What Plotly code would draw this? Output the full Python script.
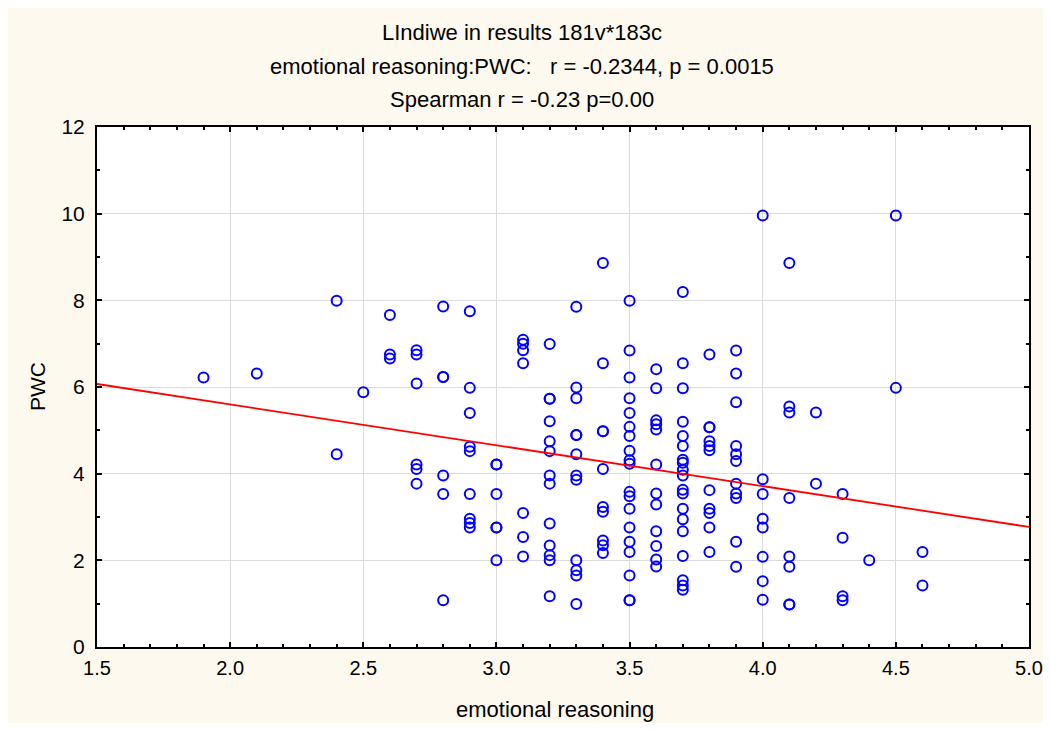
import plotly.graph_objects as go

# ---- data ----
col_x = [1.9, 2.1, 2.4, 2.5, 2.6, 2.7, 2.8, 2.9, 3.0, 3.1, 3.2, 3.3, 3.4,
         3.5, 3.6, 3.7, 3.8, 3.9, 4.0, 4.1, 4.2, 4.3, 4.4, 4.5, 4.6]
col_pwc = [
    [6.22],
    [6.31],
    [7.99, 4.45],
    [5.88],
    [7.66, 6.75, 6.66],
    [6.85, 6.75, 6.08, 4.21, 4.11, 3.77],
    [7.86, 6.23, 6.23, 3.96, 3.53, 1.08],
    [7.75, 5.98, 5.40, 4.62, 4.52, 3.53, 2.96, 2.86, 2.76],
    [4.21, 4.21, 3.53, 2.76, 2.76, 2.00],
    [7.09, 7.00, 6.85, 6.55, 3.09, 2.54, 2.09],
    [6.99, 5.73, 5.73, 5.21, 4.75, 4.52, 3.96, 3.77, 2.85, 2.34, 2.12, 2.00, 1.17],
    [7.85, 5.99, 5.74, 4.89, 4.89, 4.45, 3.96, 3.86, 2.00, 1.77, 1.65, 0.99],
    [8.86, 6.55, 4.98, 4.98, 4.11, 3.23, 3.12, 2.46, 2.35, 2.17],
    [7.99, 6.84, 6.22, 5.74, 5.40, 5.08, 4.87, 4.53, 4.31, 4.23, 3.58, 3.48,
     3.19, 2.76, 2.43, 2.19, 1.65, 1.08, 1.08],
    [6.41, 5.97, 5.23, 5.14, 5.02, 4.21, 3.54, 3.29, 2.67, 2.33, 2.02, 1.86],
    [8.19, 6.55, 5.97, 5.20, 4.87, 4.64, 4.32, 4.25, 4.09, 3.96, 3.63, 3.54,
     3.19, 2.95, 2.67, 2.10, 1.54, 1.42, 1.32],
    [6.75, 5.07, 5.07, 4.75, 4.64, 4.54, 3.62, 3.19, 3.09, 2.76, 2.19],
    [6.84, 6.31, 5.65, 4.64, 4.45, 4.29, 3.77, 3.54, 3.44, 2.43, 1.85],
    [9.96, 3.87, 3.53, 2.96, 2.76, 2.08, 1.52, 1.09],
    [8.86, 5.55, 5.41, 3.44, 2.09, 1.85, 0.98, 0.98],
    [5.41, 3.77],
    [3.53, 2.52, 1.17, 1.08],
    [2.00],
    [9.96, 5.98],
    [2.19, 1.42],
]
fit_x = [1.5, 5.0]
fit_y = [6.07, 2.77]

title_lines = ["LIndiwe in results 181v*183c",
               "emotional reasoning:PWC:   r = -0.2344, p = 0.0015",
               "Spearman r = -0.23 p=0.00"]
x_title = "emotional reasoning"
y_title = "PWC"
x_ticks = [1.5, 2.0, 2.5, 3.0, 3.5, 4.0, 4.5, 5.0]
y_ticks = [0, 2, 4, 6, 8, 10, 12]

er = []
pwc = []
for xv, ys in zip(col_x, col_pwc):
    for yv in ys:
        er.append(xv)
        pwc.append(yv)

FONT = "Liberation Sans, Arial, sans-serif"
OFF = 8  # page body margin
W, H = 1035, 715
L, T = 89, 119
PW, PH = 932, 520
R = W - L - PW
B = H - T - PH


def px(xpage):
    return (xpage - OFF - L) / PW


def py(ypage):
    return (H - B - (ypage - OFF)) / PH


fig = go.Figure()
fig.add_trace(go.Scatter(
    x=er, y=pwc, mode="markers",
    marker=dict(symbol="circle-open", size=10, color="#0000FF",
                line=dict(width=2, color="#0000FF")),
    showlegend=False, hoverinfo="x+y"))
fig.add_trace(go.Scatter(
    x=fit_x, y=fit_y, mode="lines",
    line=dict(color="#FF0000", width=1.8),
    showlegend=False, hoverinfo="skip"))

axis_common = dict(
    showline=True, linecolor="black", linewidth=2, mirror="ticks",
    ticks="inside", ticklen=5, tickwidth=1.5, tickcolor="black",
    showgrid=True, gridcolor="#DCDCDC", gridwidth=1,
    zeroline=False, automargin=False, ticklabeloverflow="allow",
)

fig.update_xaxes(range=[1.5, 5.0], tickvals=x_ticks, tickformat=".1f",
                 minor=dict(ticks="inside", dtick=0.1, ticklen=3,
                            tickcolor="black", showgrid=False),
                 ticklabelstandoff=2,
                 tickfont=dict(family=FONT, size=20, color="black"),
                 **axis_common)
fig.update_yaxes(range=[0, 12], tickvals=y_ticks,
                 minor=dict(ticks="inside", dtick=1, ticklen=3,
                            tickcolor="black", showgrid=False),
                 ticklabelstandoff=6,
                 tickfont=dict(family=FONT, size=21, color="black"),
                 **axis_common)

annotations = []
for line, ypix in zip(title_lines, [33, 67, 100]):
    annotations.append(dict(text=line, xref="paper", yref="paper",
                            x=px(522), y=py(ypix), showarrow=False,
                            xanchor="center", yanchor="middle",
                            font=dict(family=FONT, size=22, color="black")))
annotations.append(dict(text=x_title, xref="paper", yref="paper",
                        x=px(555), y=py(709), showarrow=False,
                        xanchor="center", yanchor="middle",
                        font=dict(family=FONT, size=22, color="black")))
annotations.append(dict(text=y_title, xref="paper", yref="paper",
                        x=px(37), y=py(387), showarrow=False, textangle=-90,
                        xanchor="center", yanchor="middle",
                        font=dict(family=FONT, size=21, color="black")))

fig.update_layout(
    width=W, height=H,
    margin=dict(l=L, r=R, t=T, b=B, pad=0, autoexpand=False),
    paper_bgcolor="#FDF9EF", plot_bgcolor="white",
    annotations=annotations,
    font=dict(family=FONT, size=21, color="black"),
)

fig.write_html("out.html")
